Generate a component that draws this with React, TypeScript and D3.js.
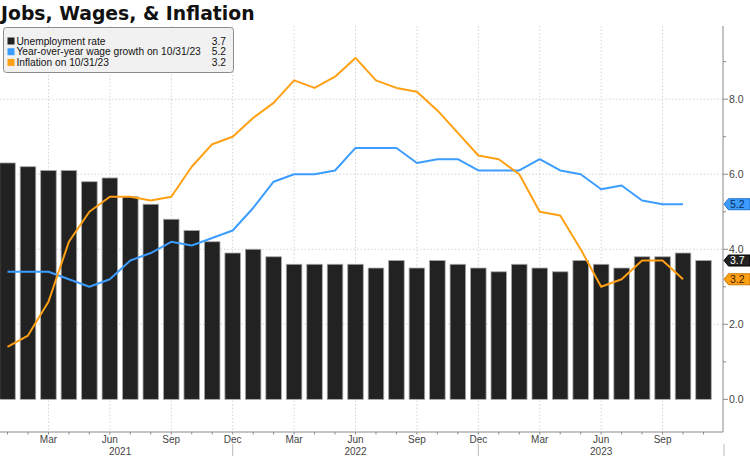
import * as d3 from 'd3';

const width = 750;
const height = 456;
const [mt, mb] = [26, 24];
const plotRight = 723;

// monthly, Jan 2021 .. Nov 2023
const months = d3.timeMonths(new Date(2021, 0, 1), new Date(2023, 11, 1));

const unemployment = [
    6.3, 6.2, 6.1, 6.1, 5.8, 5.9, 5.4, 5.2, 4.8, 4.5, 4.2, 3.9,
    4.0, 3.8, 3.6, 3.6, 3.6, 3.6, 3.5, 3.7, 3.5, 3.7, 3.6, 3.5,
    3.4, 3.6, 3.5, 3.4, 3.7, 3.6, 3.5, 3.8, 3.8, 3.9, 3.7
];
const wageGrowth = [
    3.4, 3.4, 3.4, 3.2, 3.0, 3.2, 3.7, 3.9, 4.2, 4.1, 4.3, 4.5,
    5.1, 5.8, 6.0, 6.0, 6.1, 6.7, 6.7, 6.7, 6.3, 6.4, 6.4, 6.1,
    6.1, 6.1, 6.4, 6.1, 6.0, 5.6, 5.7, 5.3, 5.2, 5.2
];
const inflation = [
    1.4, 1.7, 2.6, 4.2, 5.0, 5.4, 5.4, 5.3, 5.4, 6.2, 6.8, 7.0,
    7.5, 7.9, 8.5, 8.3, 8.6, 9.1, 8.5, 8.3, 8.2, 7.7, 7.1, 6.5,
    6.4, 6.0, 5.0, 4.9, 4.0, 3.0, 3.2, 3.7, 3.7, 3.2
];
const years = ['2021', '2022', '2023'];
const yTicks = [0, 2, 4, 6, 8];
const yMinor = [1, 3, 5, 7, 9];

const legendItems = [
    { name: 'Unemployment rate', value: '3.7', color: '#222222' },
    { name: 'Year-over-year wage growth on 10/31/23', value: '5.2', color: '#3d9dff' },
    { name: 'Inflation on 10/31/23', value: '3.2', color: '#ffa014' }
];

const BLUE = '#3d9dff';
const ORANGE = '#ffa014';
const BAR = '#222222';
const FONT = '"Liberation Sans", Arial, sans-serif';

export default function App() {
    const x = d3.scaleLinear().domain([0, months.length - 1]).range([7.5, 703.5]);
    const y = d3.scaleLinear().domain([-0.87, 9.95]).range([height - mb, mt]);
    const step = x(1) - x(0);
    const barW = step * 0.76;
    const axisY = height - mb;

    const line = d3
        .line<number>()
        .x((_d, i) => x(i))
        .y((d) => y(d));

    const fmt = d3.timeFormat('%b');
    const labelled = months.map((m, i) => ({ m, i })).filter((d) => d.m.getMonth() % 3 === 2);

    // value tag on the right axis
    const tag = (v: number, fill: string, stroke: string, text: string, label: string) => {
        const cy = y(v);
        const h = 5.5;
        const pts = [
            [724, cy],
            [728.5, cy - h],
            [750, cy - h],
            [750, cy + h],
            [728.5, cy + h]
        ]
            .map((p) => p.join(','))
            .join(' ');
        return (
            <g key={label + fill}>
                <polygon points={pts} fill={fill} stroke={stroke} strokeWidth={1} />
                <text x={730} y={cy + 3.8} fontSize={10.5} fill={text} fontFamily={FONT}>
                    {label}
                </text>
            </g>
        );
    };

    return (
        <div style={{ position: 'absolute', left: 0, top: 0 }}>
            <svg width={width} height={height} style={{ display: 'block', background: '#fff' }}>
                {/* grid */}
                {yTicks
                    .filter((t) => t > 0)
                    .map((t) => (
                        <line key={'gy' + t} x1={0} x2={plotRight} y1={y(t)} y2={y(t)} stroke="#d4d4d4" strokeDasharray="1.5,2" />
                    ))}
                {labelled.map((d) => (
                    <line key={'gx' + d.i} x1={x(d.i)} x2={x(d.i)} y1={mt} y2={axisY} stroke="#d4d4d4" strokeDasharray="1.5,2" />
                ))}

                {/* bars */}
                {unemployment.map((v, i) => (
                    <rect
                        key={'b' + i}
                        x={x(i) - barW / 2}
                        y={y(v)}
                        width={barW}
                        height={y(0) - y(v)}
                        fill={BAR}
                        stroke="#a8a8a8"
                        strokeWidth={0.8}
                    />
                ))}

                {/* lines */}
                <path d={line(wageGrowth) ?? ''} fill="none" stroke={BLUE} strokeWidth={2} strokeLinejoin="round" />
                <path d={line(inflation) ?? ''} fill="none" stroke={ORANGE} strokeWidth={2} strokeLinejoin="round" />

                {/* x axis */}
                <line x1={0} x2={plotRight} y1={axisY} y2={axisY} stroke="#8a8a8a" />
                {months.map((_m, i) => (
                    <line key={'xt' + i} x1={x(i)} x2={x(i)} y1={axisY} y2={axisY + 2.5} stroke="#8a8a8a" />
                ))}
                {labelled.map((d) => (
                    <text key={'xl' + d.i} x={x(d.i)} y={axisY + 11} textAnchor="middle" fontSize={10} fill="#444" fontFamily={FONT}>
                        {fmt(d.m)}
                    </text>
                ))}
                {years.map((yr, k) => {
                    const start = k === 0 ? x(0) : x(12 * k - 1);
                    const end = x(12 * k + 11);
                    return (
                        <g key={yr}>
                            <text x={(start + end) / 2} y={axisY + 23} textAnchor="middle" fontSize={10} fill="#444" fontFamily={FONT}>
                                {yr}
                            </text>
                            <line x1={end} x2={end} y1={axisY + 12} y2={height} stroke="#bbb" />
                        </g>
                    );
                })}

                {/* right axis */}
                <line x1={plotRight} x2={plotRight} y1={mt} y2={axisY} stroke="#8a8a8a" />
                {yMinor.map((t) => (
                    <line key={'ym' + t} x1={plotRight} x2={plotRight + 3} y1={y(t)} y2={y(t)} stroke="#8a8a8a" />
                ))}
                {yTicks.map((t) => (
                    <g key={'yt' + t}>
                        <line x1={plotRight} x2={plotRight + 5} y1={y(t)} y2={y(t)} stroke="#8a8a8a" />
                        <text x={729} y={y(t) + 3.8} fontSize={10.5} fill="#444" fontFamily={FONT}>
                            {t.toFixed(1)}
                        </text>
                    </g>
                ))}
                {tag(wageGrowth[wageGrowth.length - 1], BLUE, '#1f6fcc', '#0b2a55', '5.2')}
                {tag(unemployment[unemployment.length - 1], BAR, '#000', '#fff', '3.7')}
                {tag(inflation[inflation.length - 1], ORANGE, '#c77800', '#3a2400', '3.2')}

                {/* title */}
                <text x={1} y={20} fontSize={18.8} fontWeight="bold" fill="#111" fontFamily='"DejaVu Sans", Verdana, sans-serif'>
                    Jobs, Wages, &amp; Inflation
                </text>

                {/* legend */}
                <rect x={3.5} y={27.5} width={230} height={45} rx={3} fill="#f1f1f1" stroke="#8c8c8c" />
                {legendItems.map((d, i) => {
                    const cy = 41 + i * 10.7;
                    return (
                        <g key={d.name}>
                            <rect x={7.5} y={cy - 3.5} width={7} height={7} fill={d.color} />
                            <text x={16.5} y={cy + 3.6} fontSize={10.2} fill="#111" fontFamily={FONT}>
                                {d.name}
                            </text>
                            <text x={226} y={cy + 3.6} fontSize={10.2} fill="#111" textAnchor="end" fontFamily={FONT}>
                                {d.value}
                            </text>
                        </g>
                    );
                })}
            </svg>
        </div>
    );
}
